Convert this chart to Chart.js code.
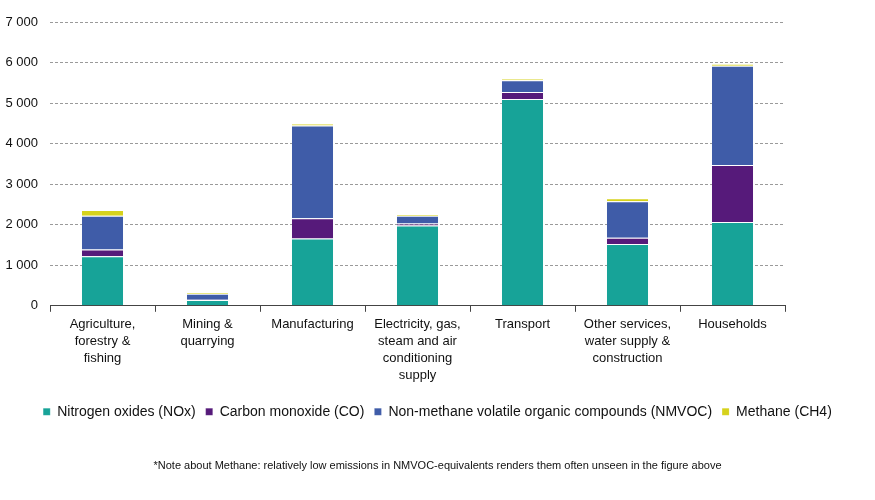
<!DOCTYPE html>
<html>
<head>
<meta charset="utf-8">
<script src="https://cdn.jsdelivr.net/npm/chart.js@4/dist/chart.umd.min.js"></script>
<style>
html,body{margin:0;padding:0;background:#fff;}
#wrap{width:875px;height:500px;position:relative;}
</style>
</head>
<body>
<div id="wrap"><canvas id="c" width="875" height="500"></canvas></div>
<script>
const categories = [
  ["Agriculture,", "forestry &", "fishing"],
  ["Mining &", "quarrying"],
  ["Manufacturing"],
  ["Electricity, gas,", "steam and air", "conditioning", "supply"],
  ["Transport"],
  ["Other services,", "water supply &", "construction"],
  ["Households"]
];
const seriesNames = ["Nitrogen oxides (NOx)", "Carbon monoxide (CO)", "Non-methane volatile organic compounds (NMVOC)", "Methane (CH4)"];
const noxValues    = [1220, 145, 1660, 1980, 5100, 1525, 2070];
const coValues     = [170, 5, 500, 50, 175, 155, 1400];
const nmvocValues  = [830, 150, 2290, 190, 290, 900, 2450];
const ch4Values    = [140, 30, 45, 40, 35, 75, 50];
const yTicks = [0, 1000, 2000, 3000, 4000, 5000, 6000, 7000];
const footnote = "*Note about Methane: relatively low emissions in NMVOC-equivalents renders them often unseen in the figure above";

const colors = ["#17a398", "#561a7a", "#3f5ca8", "#d6d21c"];
const seriesValues = [noxValues, coValues, nmvocValues, ch4Values];

const datasets = seriesNames.map((name, i) => ({
  label: name,
  data: seriesValues[i],
  backgroundColor: colors[i],
  borderColor: "rgba(255,255,255,0.5)",
  borderWidth: {top: 1, bottom: 0, left: 0, right: 0},
  borderSkipped: false,
  barPercentage: 0.8,
  categoryPercentage: 0.49
}));

const fmt = v => String(v).replace(/\B(?=(\d{3})+(?!\d))/g, " ");
const FONT = "Liberation Sans, Arial, sans-serif";

new Chart(document.getElementById("c"), {
  type: "bar",
  data: { labels: categories, datasets: datasets },
  options: {
    responsive: false,
    animation: false,
    layout: { padding: { left: 0, right: 0, top: 22, bottom: 8 } },
    scales: {
      x: {
        stacked: true,
        offset: true,
        grid: { offset: true, drawOnChartArea: false, drawTicks: true, tickLength: 6, color: "#444" },
        border: { display: true, color: "#444", width: 1 },
        ticks: { color: "#111", font: { family: FONT, size: 13, lineHeight: 1.3 }, padding: 4, maxRotation: 0, autoSkip: false },
        afterFit: s => { s.height = 89; }
      },
      y: {
        stacked: true,
        min: 0, max: 7000,
        afterBuildTicks: s => { s.ticks = yTicks.map(v => ({ value: v })); },
        grid: { color: "#9a9a9a", drawTicks: false, lineWidth: 1 },
        border: { display: false, dash: [3, 2] },
        ticks: { color: "#111", font: { family: FONT, size: 13 }, padding: 12, callback: v => fmt(v) },
        afterFit: s => { s.width = 50; }
      },
      yRight: {
        type: "linear",
        position: "right",
        display: true,
        grid: { display: false, drawTicks: false },
        border: { display: false },
        ticks: { display: false },
        afterFit: s => { s.width = 90; }
      }
    },
    plugins: {
      legend: {
        position: "bottom",
        labels: {
          boxWidth: 7, boxHeight: 7, padding: 10,
          color: "#111",
          font: { family: FONT, size: 14 }
        }
      },
      subtitle: {
        display: true,
        position: "bottom",
        text: footnote,
        color: "#111",
        font: { family: FONT, size: 11, weight: "normal" },
        padding: { top: 31, bottom: 19 }
      },
      tooltip: { enabled: false }
    }
  }
});
</script>
</body>
</html>
